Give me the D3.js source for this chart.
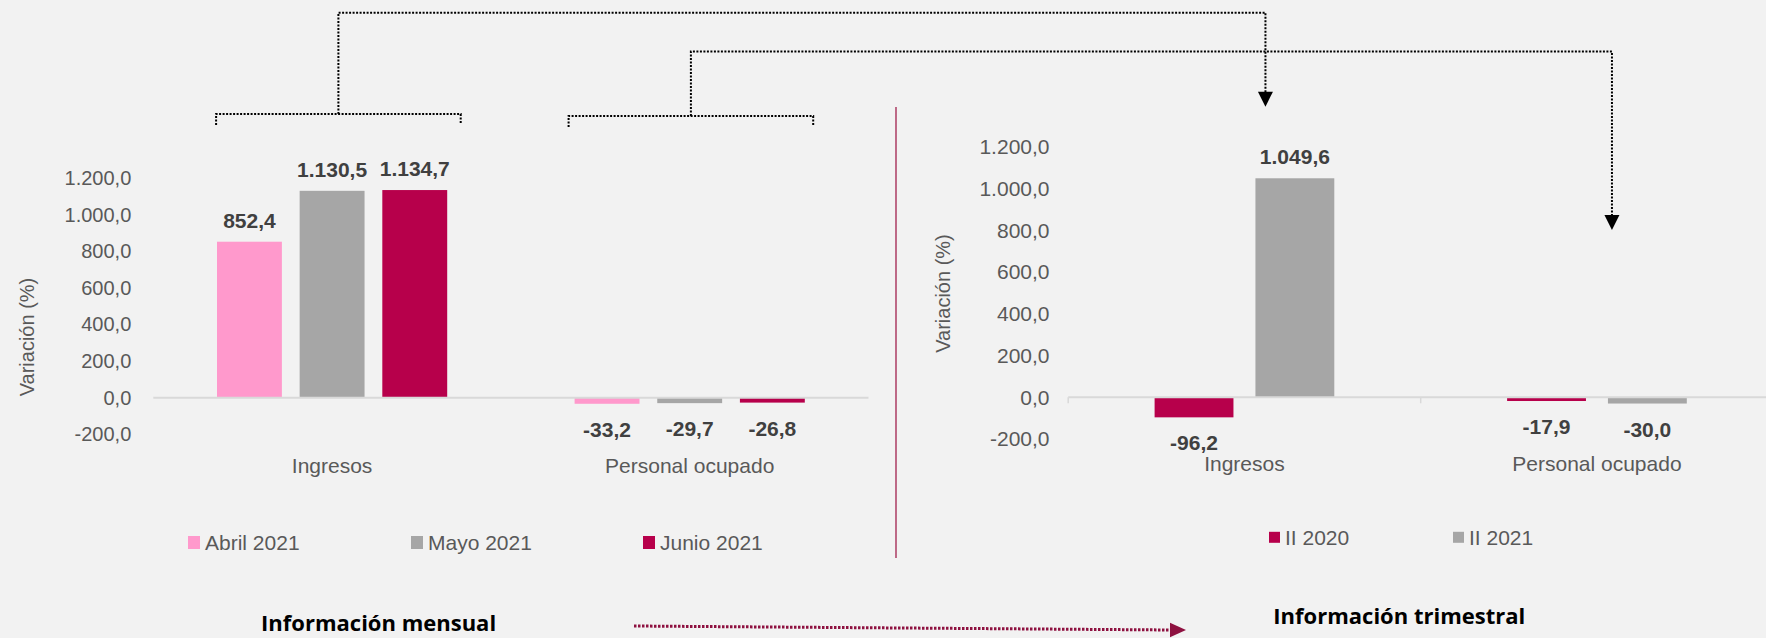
<!DOCTYPE html>
<html>
<head>
<meta charset="utf-8">
<script src="https://cdn.jsdelivr.net/npm/d3@7"></script>
<style>
  html, body { margin: 0; padding: 0; background: #f2f2f2; }
  svg { display: block; font-family: "Liberation Sans", Arial, sans-serif; }
</style>
</head>
<body>
<div id="chart"></div>
<script>
// ---- data ----
const categories = ["Ingresos", "Personal ocupado"];
const monthlySeries = ["Abril 2021", "Mayo 2021", "Junio 2021"];
const abril2021 = [852.4, -33.2];
const mayo2021 = [1130.5, -29.7];
const junio2021 = [1134.7, -26.8];
const quarterSeries = ["II 2020", "II 2021"];
const trim2020 = [-96.2, -17.9];
const trim2021 = [1049.6, -30.0];
const yTicks = [-200, 0, 200, 400, 600, 800, 1000, 1200];
const panelTitles = ["Información mensual", "Información trimestral"];

const monthlyColors = ["#ff99cc", "#a6a6a6", "#b7004b"];
const quarterColors = ["#b7004b", "#a6a6a6"];

const width = 1766, height = 638;

const es = d3.formatLocale({decimal: ",", thousands: ".", grouping: [3], currency: ["", ""], minus: "-"});
const fmt = es.format(",.1f");

const svg = d3.select("#chart")
	.append("svg")
	.attr("width", width)
	.attr("height", height);

svg.append("rect")
	.attr("width", width)
	.attr("height", height)
	.attr("fill", "#f2f2f2");

function drawPanel(cfg){
	const rows = categories.map((c, i) => ({cat: c, values: cfg.series.map((s, j) => ({key: s, v: cfg.values[j][i], color: cfg.colors[j]}))}));

	const x = d3.scaleBand()
		.domain(categories)
		.range(cfg.xRange)
		.paddingInner(0).paddingOuter(0);

	const inner = d3.scaleBand()
		.domain(cfg.series)
		.range([cfg.groupPad, x.bandwidth() - cfg.groupPad])
		.paddingInner(cfg.barGap)
		.paddingOuter(0);

	const y = d3.scaleLinear()
		.domain([-200, 1200])
		.range(cfg.yRange);

	const g = svg.append("g");

	// y axis labels only
	const yAxis = d3.axisLeft(y)
		.tickValues(yTicks)
		.tickSize(0)
		.tickPadding(cfg.tickPadding)
		.tickFormat(fmt);

	g.append("g")
		.attr("transform", `translate(${cfg.xRange[0]},0)`)
		.call(yAxis)
		.call(a => a.select(".domain").remove())
		.selectAll("text")
			.style("font-family", '"Liberation Sans", Arial, sans-serif')
			.style("font-size", cfg.tickFont + "px")
			.attr("fill", "#595959");

	// bars
	const groups = g.selectAll(".grp")
		.data(rows)
		.enter()
		.append("g")
		.attr("transform", d => `translate(${x(d.cat)},0)`);

	groups.selectAll("rect")
		.data(d => d.values)
		.enter()
		.append("rect")
		.attr("x", d => inner(d.key))
		.attr("width", inner.bandwidth())
		.attr("y", d => y(Math.max(0, d.v)))
		.attr("height", d => Math.abs(y(d.v) - y(0)))
		.attr("fill", d => d.color);

	groups.selectAll("text.lbl")
		.data(d => d.values)
		.enter()
		.append("text")
		.attr("class", "lbl")
		.attr("x", d => inner(d.key) + inner.bandwidth() / 2)
		.attr("y", d => d.v >= 0 ? y(d.v) - 14 : y(d.v) + 33)
		.attr("text-anchor", "middle")
		.style("font-size", "21px")
		.style("font-weight", "bold")
		.attr("fill", "#404040")
		.text(d => fmt(d.v));

	// zero line
	g.append("line")
		.attr("x1", cfg.xRange[0])
		.attr("x2", cfg.lineEnd)
		.attr("y1", y(0))
		.attr("y2", y(0))
		.style("stroke", "#d9d9d9")
		.style("stroke-width", 2);

	if (cfg.catTicks) {
		g.selectAll("line.ct")
			.data(categories)
			.enter()
			.append("line")
			.attr("x1", d => x(d))
			.attr("x2", d => x(d))
			.attr("y1", y(0))
			.attr("y2", y(0) + 6)
			.style("stroke", "#d9d9d9")
			.style("stroke-width", 1.5);
	}

	// category labels
	g.selectAll("text.cat")
		.data(categories)
		.enter()
		.append("text")
		.attr("x", d => x(d) + x.bandwidth() / 2)
		.attr("y", cfg.catY)
		.attr("text-anchor", "middle")
		.style("font-size", "21px")
		.attr("fill", "#595959")
		.text(d => d);

	// y title
	g.append("text")
		.attr("transform", `translate(${cfg.yTitle[0]},${cfg.yTitle[1]}) rotate(-90)`)
		.attr("text-anchor", "middle")
		.style("font-size", "20px")
		.attr("fill", "#595959")
		.text("Variación (%)");

	// legend
	const leg = g.selectAll(".leg")
		.data(cfg.series)
		.enter()
		.append("g")
		.attr("transform", (d, i) => `translate(${cfg.legendX[i]},${cfg.legendY})`);

	leg.append("rect")
		.attr("x", 0)
		.attr("y", -cfg.legendBox[1] / 2)
		.attr("width", cfg.legendBox[0])
		.attr("height", cfg.legendBox[1])
		.attr("fill", (d, i) => cfg.colors[i]);

	leg.append("text")
		.attr("x", cfg.legendBox[0] + 5)
		.attr("y", 7.5)
		.style("font-size", "21px")
		.attr("fill", "#595959")
		.text(d => d);

	// panel title
	g.append("text")
		.attr("x", cfg.title[0])
		.attr("y", cfg.title[1])
		.attr("text-anchor", "middle")
		.style("font-family", '"Open Sans", "Liberation Sans", sans-serif')
		.style("font-size", "22px")
		.style("font-weight", "bold")
		.attr("fill", "#000")
		.text(cfg.titleText);

	return {x, y};
}

const left = drawPanel({
	series: monthlySeries,
	values: [abril2021, mayo2021, junio2021],
	colors: monthlyColors,
	xRange: [153.3, 868.5],
	lineEnd: 868.5,
	groupPad: 63.7,
	barGap: 0.215,
	yRange: [434.3, 178.1],
	tickPadding: 22,
	tickFont: 20,
	catTicks: false,
	catY: 473,
	yTitle: [34, 337],
	legendX: [188, 411, 643],
	legendY: 542.5,
	legendBox: [12, 13],
	title: [378.6, 631],
	titleText: panelTitles[0]
});

const right = drawPanel({
	series: quarterSeries,
	values: [trim2020, trim2021],
	colors: quarterColors,
	xRange: [1068.2, 1773.2],
	lineEnd: width,
	groupPad: 86.4,
	barGap: 0.218,
	yRange: [439, 146.9],
	tickPadding: 18.7,
	tickFont: 21,
	catTicks: true,
	catY: 471,
	yTitle: [950, 293.5],
	legendX: [1269, 1453],
	legendY: 537.3,
	legendBox: [11, 11],
	title: [1399.3, 624],
	titleText: panelTitles[1]
});

// divider between panels
svg.append("line")
	.attr("x1", 896).attr("x2", 896)
	.attr("y1", 107).attr("y2", 558)
	.style("stroke", "#a0204c")
	.style("stroke-width", 1.3);

// ---- dotted connectors from monthly groups to quarterly groups ----
const conn = svg.append("g")
	.style("fill", "none")
	.style("stroke", "#000")
	.style("stroke-width", 2)
	.style("stroke-dasharray", "2,1.5");

const links = [
	{cat: categories[0], dx: 6.3, by: 114, hy: 12.7, tx: 21, tip: 106.7},
	{cat: categories[1], dx: 1.2, by: 116, hy: 51.5, tx: 15, tip: 230}
];

links.forEach(l => {
	const cx = left.x(l.cat) + left.x.bandwidth() / 2 + l.dx;
	const hw = 122.3;
	const tx = right.x(l.cat) + right.x.bandwidth() / 2 + l.tx;
	// bracket
	conn.append("path")
		.attr("d", `M${cx - hw},${l.by + 11}V${l.by}H${cx + hw}V${l.by + 10}`);
	// elbow to right panel
	conn.append("path")
		.attr("d", `M${cx},${l.by}V${l.hy}H${tx}V${l.tip - 14}`);
	svg.append("path")
		.attr("d", `M${tx - 7.5},${l.tip - 15}L${tx + 7.5},${l.tip - 15}L${tx},${l.tip}Z`)
		.attr("fill", "#000");
});

// maroon arrow between panel titles
svg.append("line")
	.attr("x1", 634).attr("y1", 626)
	.attr("x2", 1171).attr("y2", 630)
	.style("stroke", "#8e1140")
	.style("stroke-width", 3)
	.style("stroke-dasharray", "2.5,1.5");

svg.append("path")
	.attr("d", "M1170,622.7L1186,630L1170,637.3Z")
	.attr("fill", "#8e1140");
</script>
</body>
</html>
